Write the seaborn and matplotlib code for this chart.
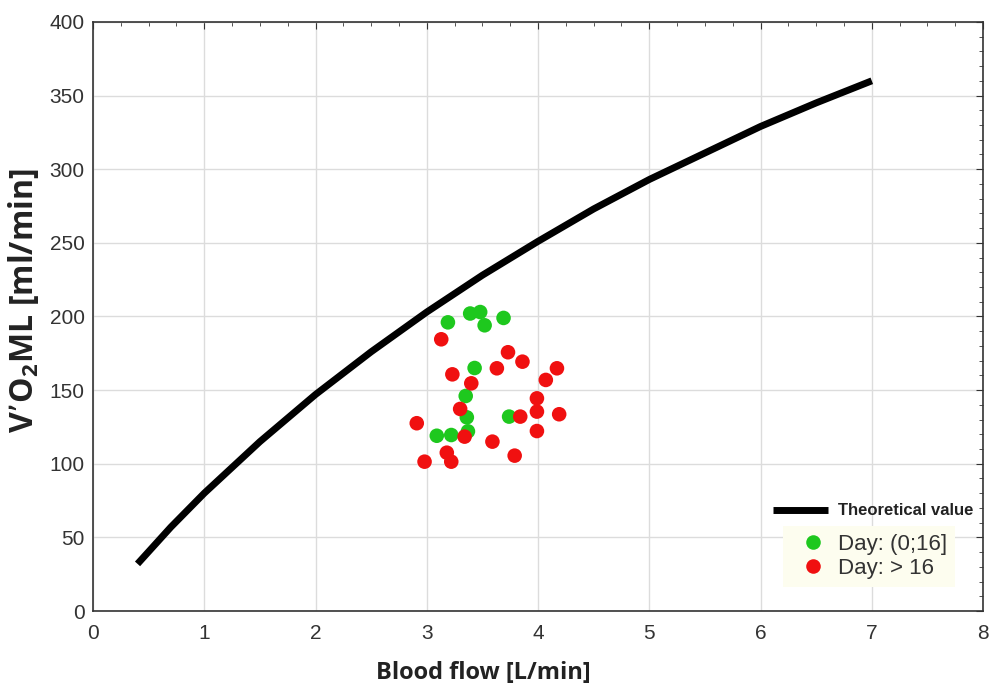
import numpy as np
import pandas as pd
import seaborn as sns
import matplotlib.pyplot as plt
from matplotlib.ticker import MultipleLocator

# theoretical curve
flow_theory = [0.4, 0.7, 1.0, 1.5, 2.0, 2.5, 3.0, 3.5, 4.0, 4.5, 5.0, 5.5, 6.0, 6.5, 7.0]
vo2_theory = [32, 57, 80, 115, 147, 176, 203, 228, 251, 273, 293, 311, 329, 345, 360]

# measured points, day (0;16]
green_x = [3.19, 3.39, 3.48, 3.52, 3.69, 3.43, 3.35, 3.36, 3.37, 3.09, 3.22, 3.74]
green_y = [196, 202, 203, 194, 199, 165, 146, 131.5, 122, 119, 119.5, 132]

# measured points, day > 16
red_x = [3.13, 3.73, 3.86, 4.17, 3.63, 3.23, 4.07, 3.40, 3.99, 3.30, 3.99, 4.19,
         3.84, 2.91, 3.99, 3.34, 3.59, 3.18, 3.22, 2.98, 3.79]
red_y = [184.5, 175.7, 169.3, 164.8, 164.8, 160.7, 156.9, 154.6, 144.4, 137.2, 135.4, 133.6,
         132, 127.5, 122.2, 118.4, 115, 107.5, 101.4, 101.4, 105.5]

theory = pd.DataFrame({"flow": flow_theory, "vo2": vo2_theory})
pts = pd.DataFrame({
    "flow": green_x + red_x,
    "vo2": green_y + red_y,
    "group": ["Day: (0;16]"] * len(green_x) + ["Day: > 16"] * len(red_x),
})

sns.set_style("white")
plt.rcParams["font.family"] = ["Liberation Sans", "DejaVu Sans"]

fig = plt.figure(figsize=(9.97, 6.89), dpi=100)
ax = fig.add_axes([0.0933, 0.1132, 0.8927, 0.855])

sns.lineplot(data=theory, x="flow", y="vo2", color="black", lw=5, ax=ax,
             label="Theoretical value", solid_capstyle="butt", solid_joinstyle="round")
sns.scatterplot(data=pts, x="flow", y="vo2", hue="group",
                palette={"Day: (0;16]": "#1ec81e", "Day: > 16": "#f01010"},
                s=110, edgecolor="none", ax=ax, zorder=3)

ax.set_xlim(0, 8)
ax.set_ylim(0, 400)
ax.xaxis.set_major_locator(MultipleLocator(1))
ax.xaxis.set_minor_locator(MultipleLocator(0.25))
ax.yaxis.set_major_locator(MultipleLocator(50))
ax.yaxis.set_minor_locator(MultipleLocator(10))
ax.grid(True, which="major", color="#dcdcdc", lw=1)
ax.set_axisbelow(True)
ax.tick_params(which="both", direction="in", top=True, right=True, color="#333333",
               labelsize=15, labelcolor="#333333")
ax.tick_params(which="major", length=5)
ax.tick_params(which="minor", length=3)
ax.tick_params(axis="x", pad=9)
ax.tick_params(axis="y", pad=6)
for s in ax.spines.values():
    s.set_color("#333333")
    s.set_linewidth(1.2)

ax.set_xlabel("Blood flow [L/min]", fontsize=17, fontweight="bold", family="Open Sans",
              color="#222222")
ax.xaxis.set_label_coords(0.438, -0.085)
ax.set_ylabel(r"V’O$\mathregular{_2}$ML [ml/min]", fontsize=23, fontweight="bold",
              family="Open Sans", color="#222222")
ax.yaxis.set_label_coords(-0.058, 0.526)

handles, labels = ax.get_legend_handles_labels()
leg1 = ax.legend(handles[:1], labels[:1], loc="center", bbox_to_anchor=(0.877, 0.17),
                 frameon=False, fontsize=12, handlelength=3.3, handletextpad=0.6)
leg1.get_texts()[0].set_fontweight("bold")
leg1.get_texts()[0].set_color("#222222")
ax.add_artist(leg1)
leg2 = ax.legend(handles[1:], labels[1:], loc="center", bbox_to_anchor=(0.872, 0.093),
                 frameon=True, fontsize=16, handletextpad=0.1, labelspacing=0.15,
                 borderpad=0.35, facecolor="#fdfdef", edgecolor="none", framealpha=1,
                 fancybox=False)
for t in leg2.get_texts():
    t.set_color("#333333")

fig.savefig("out.png", dpi=100, facecolor="white")
